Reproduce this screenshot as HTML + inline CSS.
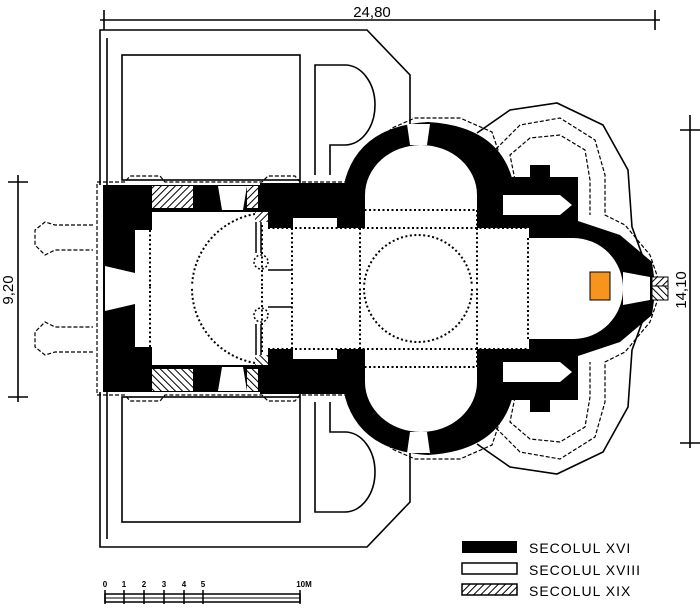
<!DOCTYPE html>
<html><head><style>html,body{margin:0;padding:0;background:#fff}svg{display:block}</style></head>
<body>
<svg width="700" height="609" viewBox="0 0 700 609" xmlns="http://www.w3.org/2000/svg" font-family="Liberation Sans, sans-serif">
<defs>
<pattern id="h" width="5" height="5" patternUnits="userSpaceOnUse" patternTransform="rotate(45)">
<rect width="5" height="5" fill="#fff"/><line x1="0" y1="0" x2="0" y2="5" stroke="#000" stroke-width="2"/></pattern>
<g id="half">
 <g fill="none" stroke="#000" stroke-width="1.6">
  <path d="M100,185 L100,30 L367,30 L410,75 L410,128"/>
  <path d="M107,185 L107,38"/>
  <rect x="122" y="55" width="178" height="125"/>
  <path d="M300,180 L300,186"/>
  <path d="M315,175 L315,65 L345,65 A30,40 0 0 1 345,145 L330,145 L330,175"/>
  <path d="M477,133 L510,110 L557,103 L603,125 L628,170 L632,227 L655,290"/>
 </g>
 <g fill="none" stroke="#000" stroke-width="1.2" stroke-dasharray="4,2">
  <path d="M97,290 L97,182 L125,182 L130,176 L160,176 L165,182 L262,182 L268,176 L295,176 L300,182 L365,182 L372,150 L392,128 L415,118 L460,118 L492,132 L503,165"/>
  <path d="M500,172 L495,150 L520,125 L560,118 L595,140 L605,175 L605,215 L625,225 L650,255 L662,290"/>
  <path d="M515,180 L510,155 L530,138 L560,135 L585,150 L590,180 L590,215"/>
  <path d="M93,225 L55,225 L45,222 L35,230 L35,245 L45,255 L55,250 L93,250"/>
 </g>
 <g fill="#000">
  <rect x="103" y="185" width="200" height="106"/>
  <rect x="260" y="183" width="105" height="108"/>
  <path d="M345,230 L345,180 Q360,126 428,122 Q497,126 512,178 L512,230 Z"/>
  <rect x="478" y="177" width="100" height="60"/>
  <rect x="530" y="165" width="20" height="15"/>
  <polygon points="528,218 575,220 620,235 652,262 656,291 528,291"/>
 </g>
 <g fill="#fff">
  <rect x="152" y="212" width="116" height="79"/>
  <rect x="135" y="230" width="18" height="61"/>
  <polygon points="105,266 135,273 135,291 105,291"/>
  <rect x="268" y="228" width="261" height="63"/>
  <rect x="293" y="218" width="44" height="11"/>
  <path d="M365,229 L365,195 A56,50 0 0 1 477,195 L477,229 Z"/>
  <path d="M528,238 L573,238 A50,50 0 0 1 623,288 L623,291 L528,291 Z"/>
  <rect x="503" y="195" width="57" height="20"/>
  <polygon points="560,195 572,205 560,215"/>
  <polygon points="218,186 247,186 243,210 222,210"/>
  <polygon points="407,124 430,124 427,145 410,145"/>
  <polygon points="623,272 650,277 650,291 623,291"/>
 </g>
 <rect x="152" y="186" width="41" height="22" fill="url(#h)"/>
 <rect x="247" y="186" width="11" height="22" fill="url(#h)"/>
 <rect x="255" y="212" width="13" height="10" fill="url(#h)"/>
 <rect x="652" y="277" width="16" height="14" fill="url(#h)" stroke="#000" stroke-width="1"/>
 <g fill="none" stroke="#000" stroke-width="2" stroke-dasharray="2,2.5">
  <path d="M255,214 A76,76 0 0 0 192,290"/>
  <path d="M364,289 A54,54 0 0 1 472,289"/>
  <path d="M268,228 L528,228"/>
  <path d="M360,210 L477,210"/>
  <path d="M292,228 L292,291"/>
  <path d="M360,210 L360,291"/>
  <path d="M477,210 L477,291"/>
  <path d="M528,238 L528,291"/>
  <path d="M150,230 L150,291"/>
  <path d="M262,225 L262,291"/>
 </g>
 <g fill="none" stroke="#000" stroke-width="1.5">
  <path d="M256,222 L256,253 M261,222 L261,253"/>
  <circle cx="261" cy="262" r="7" stroke-dasharray="2,2"/>
  <path d="M268,270 L292,270"/>
 </g>
</g>
</defs>
<use href="#half"/>
<use href="#half" transform="translate(0,577) scale(1,-1)"/>
<rect x="590" y="272" width="20" height="28" fill="#f7941d" stroke="#000" stroke-width="1"/>

<g stroke="#000" stroke-width="1.6" fill="none">
 <path d="M100,20 L660,20 M104,10 L104,30 M655,10 L655,30"/>
 <path d="M18,175 L18,402 M8,182 L28,182 M8,397 L28,397"/>
 <path d="M690,115 L690,448 M680,130 L700,130 M680,443 L700,443"/>
</g>
<text x="372" y="17" font-size="15" text-anchor="middle">24,80</text>
<text transform="translate(13,290) rotate(-90)" font-size="15" text-anchor="middle">9,20</text>
<text transform="translate(686,290) rotate(-90)" font-size="15" text-anchor="middle">14,10</text>

<rect x="462" y="541" width="55" height="12" fill="#000"/>
<rect x="462" y="563" width="55" height="11" fill="#fff" stroke="#000" stroke-width="1.5"/>
<rect x="462" y="584" width="55" height="11" fill="url(#h)" stroke="#000" stroke-width="1.5"/>
<g font-size="14" letter-spacing="1">
<text x="529" y="553">SECOLUL  XVI</text>
<text x="529" y="575">SECOLUL  XVIII</text>
<text x="529" y="596">SECOLUL  XIX</text>
</g>
<g stroke="#000" fill="none">
 <rect x="105" y="594" width="195" height="8" stroke-width="1.5"/>
 <path d="M105,598 L300,598" stroke-width="1"/>
 <path d="M105,590 L105,604 M124,590 L124,604 M144,590 L144,604 M164,590 L164,604 M184,590 L184,604 M203,590 L203,604 M300,590 L300,604" stroke-width="1.5"/>
</g>
<g font-size="8" font-weight="bold" text-anchor="middle">
<text x="105" y="587">0</text><text x="124" y="587">1</text><text x="144" y="587">2</text><text x="164" y="587">3</text><text x="184" y="587">4</text><text x="203" y="587">5</text><text x="304" y="587">10M</text>
</g>
</svg>
</body></html>
